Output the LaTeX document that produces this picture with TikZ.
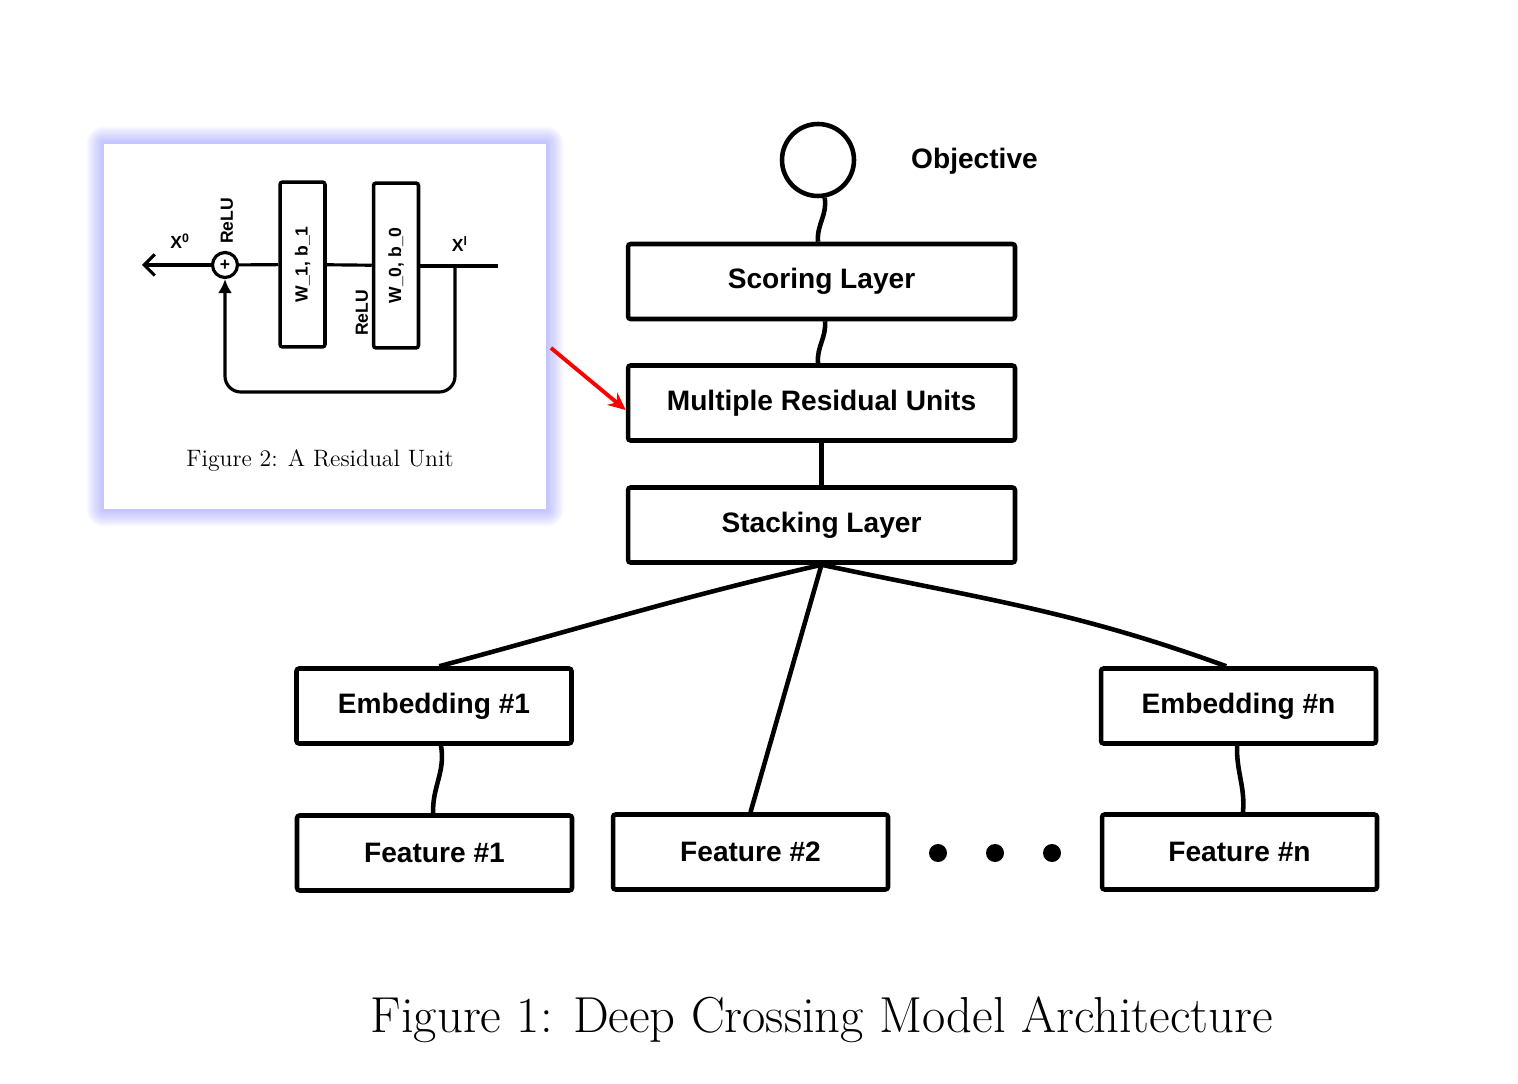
\documentclass[tikz,border=0pt]{standalone}
\usepackage{fontspec}
\usepackage{xcolor}
\usetikzlibrary{arrows.meta,backgrounds}
\newfontfamily\sketchfont{Liberation Sans}

\tikzset{
  layer/.style={draw, line width=2.6pt, rounded corners=1.5pt, minimum width=7.74cm, minimum height=1.5cm,
    font=\sketchfont\bfseries\fontsize{16}{18}\selectfont},
  small layer/.style={layer, minimum width=5.5cm},
  wire/.style={line width=2.6pt},
  unit/.style={draw, line width=2pt, rounded corners=1.5pt, minimum width=3.3cm, minimum height=0.9cm,
    font=\sketchfont\bfseries\fontsize{10}{12}\selectfont, rotate=90},
  thin wire/.style={line width=1.8pt},
  tag/.style={font=\sketchfont\bfseries\fontsize{10}{12}\selectfont},
  dot/.style={circle, fill=black, inner sep=0pt, minimum size=0.36cm}
}

\begin{document}
\begin{tikzpicture}[x=0.02cm, y=-0.02cm]
  \useasboundingbox (0,0) rectangle (1518,1084);

  % inset with the residual unit
  \node[fill=white, minimum width=8.84cm, minimum height=7.3cm, inner sep=0pt] (panel) at (325,326.5) {};
  \begin{scope}[on background layer]
    \foreach \i in {1,...,14}
      \fill[blue!50!white, opacity=0.045, rounded corners=\i*0.7pt] ([xshift=-\i*0.7pt, yshift=-\i*0.7pt]panel.south west) rectangle ([xshift=\i*0.7pt, yshift=\i*0.7pt]panel.north east);
  \end{scope}

  \node[circle, draw, line width=1.8pt, minimum size=0.5cm, inner sep=0pt, font=\sketchfont\bfseries] (sum) at (225,265) {+};
  \node[unit] (w1) at (302.5,264.5) {W\_1, b\_1};
  \node[unit] (w0) at (396,265.5) {W\_0, b\_0};
  \coordinate (xout) at (142,265);
  \coordinate (xin) at (498,266);
  \coordinate (split) at (455,266);
  \coordinate (fbR) at (455,392);
  \coordinate (fbL) at (225,392);

  \draw[thin wire, -{Straight Barb[length=6pt, width=12pt]}] (sum) -- (xout);
  \draw[thin wire] (sum) -- (w1);
  \draw[thin wire] (w1) -- (w0);
  \draw[thin wire] (w0.south |- xin) -- (xin);
  \draw[thin wire, rounded corners=9pt, -{Latex[length=8pt, width=8pt]}] (split) -- (fbR) -- (fbL) -- (sum.south);

  \node[tag] (x0) at (180,241) {X\textsuperscript{0}};
  \node[tag] (xl) at (460,244) {X\textsuperscript{l}};
  \node[tag, rotate=90] (relu1) at (227,221) {ReLU};
  \node[tag, rotate=90] (relu2) at (362,313) {ReLU};
  \node[font=\fontsize{13.5}{16}\selectfont] (cap2) at (320,460) {Figure 2: A Residual Unit};

  % main model
  \node[circle, draw, line width=2.6pt, minimum size=1.44cm] (obj) at (818,160) {};
  \node[anchor=west, font=\sketchfont\bfseries\fontsize{16}{18}\selectfont] (objlabel) at (905,161) {Objective};
  \node[layer] (score) at (821.5,281.5) {Scoring Layer};
  \node[layer] (mru) at (821.5,403) {Multiple Residual Units};
  \node[layer] (stack) at (821.5,525) {Stacking Layer};
  \node[small layer] (emb1) at (434,706) {Embedding \#1};
  \node[small layer] (embn) at (1238.5,706) {Embedding \#n};
  \node[small layer] (feat1) at (434.5,853) {Feature \#1};
  \node[small layer] (feat2) at (750.5,852) {Feature \#2};
  \node[small layer] (featn) at (1239.5,852) {Feature \#n};
  \node[dot] (d1) at (938,853) {};
  \node[dot] (d2) at (995,853) {};
  \node[dot] (d3) at (1052,853) {};

  \draw[wire] (obj) to[out=-80, in=95] (score);
  \draw[wire] (score) to[out=-85, in=95] (mru);
  \draw[wire] (mru) -- (stack);
  \draw[wire] (stack.south) to[out=193, in=15] ([xshift=3pt]emb1.north);
  \draw[wire] (stack.south) -- (feat2.north);
  \draw[wire] (stack.south) to[out=-12, in=160] ([xshift=-7pt]embn.north);
  \draw[wire] (emb1) to[out=-80, in=92] (feat1);
  \draw[wire] (embn) to[out=-92, in=85] (featn);

  \coordinate (redstart) at (551,348);
  \draw[line width=2.2pt, red, -{Stealth[length=10pt, width=9pt]}] (redstart) -- ([yshift=-4pt]mru.west);

  \node[font=\fontsize{28.8}{32}\selectfont] (cap1) at (822,1020) {Figure 1: Deep Crossing Model Architecture};
\end{tikzpicture}
\end{document}
